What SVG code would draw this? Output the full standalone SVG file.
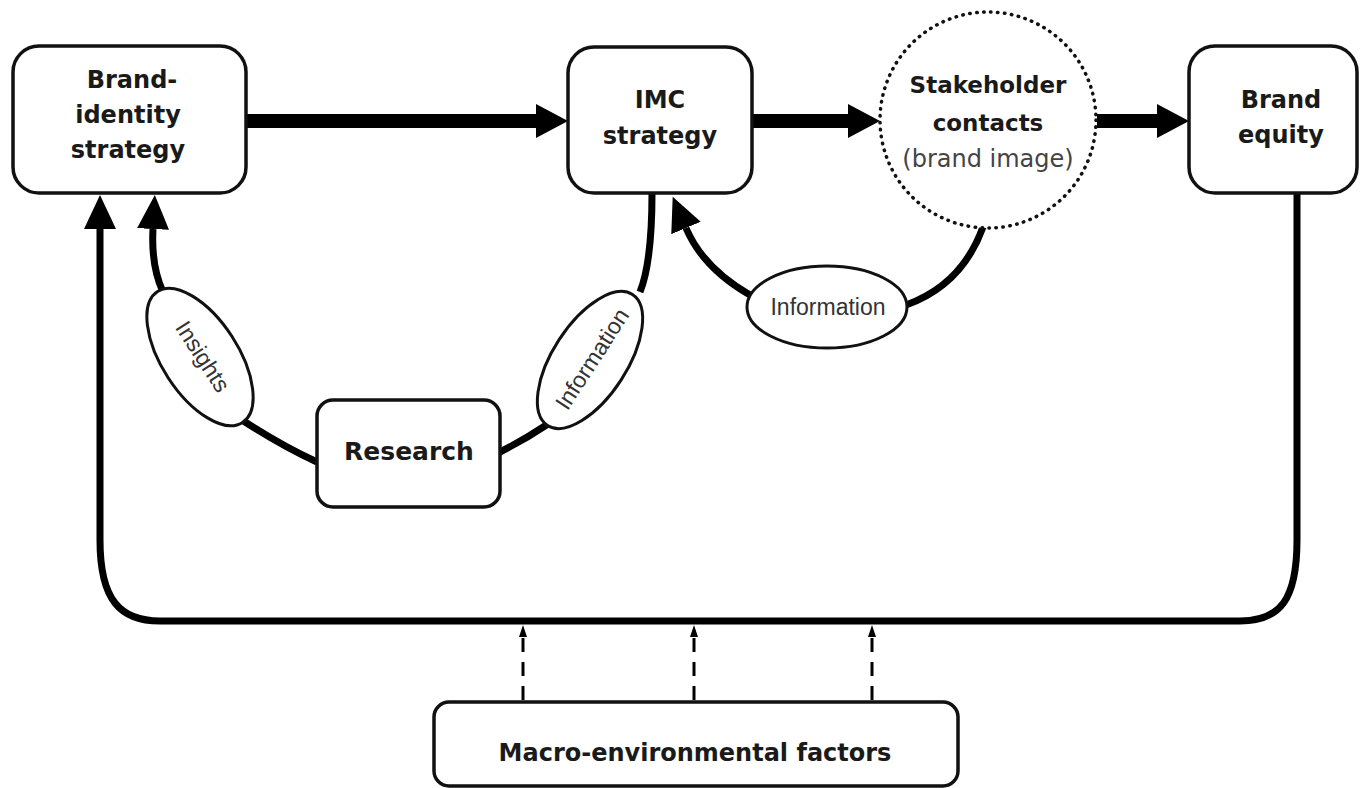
<svg xmlns="http://www.w3.org/2000/svg" width="1360" height="788" viewBox="0 0 1360 788">
<style>
.box{fill:#fff;stroke:#111;stroke-width:3.5}
.ell{fill:#fff;stroke:#111;stroke-width:3}
.t{font-family:"DejaVu Sans",Verdana,sans-serif;font-weight:bold;fill:#1a1a1a;text-anchor:middle}
.n{font-family:"Liberation Sans",Arial,sans-serif;fill:#333;text-anchor:middle}
.thick{stroke:#000;stroke-width:14;fill:none}
.loop{stroke:#000;stroke-width:7;fill:none}
.dash{stroke:#000;stroke-width:3;fill:none;stroke-dasharray:14 10}
</style>
<defs>
<marker id="bigHead" markerUnits="userSpaceOnUse" viewBox="0 -17 32 34" refX="0" refY="0" markerWidth="32" markerHeight="34" orient="auto">
<path d="M0,-17 L32,0 L0,17 z" fill="#000"/>
</marker>
<marker id="head" markerUnits="userSpaceOnUse" viewBox="0 -16 34 32" refX="0" refY="0" markerWidth="34" markerHeight="32" orient="auto">
<path d="M0,-16 L34,0 L0,16 z" fill="#000"/>
</marker>
<marker id="small" markerUnits="userSpaceOnUse" viewBox="0 -5 12 10" refX="0" refY="0" markerWidth="12" markerHeight="10" orient="auto">
<path d="M0,-4 L12,0 L0,4 z" fill="#000"/>
</marker>
</defs>

<g id="connectors">
<path class="thick" d="M246,121 H536" marker-end="url(#bigHead)"/>
<path class="thick" d="M752,121 H848" marker-end="url(#bigHead)"/>
<path class="thick" d="M1097,121 H1157" marker-end="url(#bigHead)"/>
<path class="loop" d="M1297,193 V540 C1297,600 1280,621 1240,621 H160 C120,621 100,600 100,540 V229" marker-end="url(#head)"/>
<path class="loop" d="M317,462 Q282,446 242,420"/>
<path class="loop" d="M163,292 Q151,266 153,229" marker-end="url(#head)"/>
<path class="loop" d="M500,452 Q524,440 548,424"/>
<path class="loop" d="M640,292 Q652,262 652,193"/>
<path class="loop" d="M983,227 Q962,285 906,305"/>
<path class="loop" d="M750,295 Q703,268 686,228" marker-end="url(#head)"/>
<path class="dash" d="M523,700 V637" marker-end="url(#small)"/>
<path class="dash" d="M694,700 V637" marker-end="url(#small)"/>
<path class="dash" d="M872,700 V637" marker-end="url(#small)"/>
</g>

<g id="brand-identity">
<rect class="box" x="13" y="46" width="233" height="147" rx="26"/>
<text class="t" font-size="24" x="132" y="88">Brand-</text>
<text class="t" font-size="24" x="128" y="123">identity</text>
<text class="t" font-size="24" x="128" y="158">strategy</text>
</g>

<g id="imc">
<rect class="box" x="568" y="47" width="184" height="146" rx="26"/>
<text class="t" font-size="24" x="660" y="108">IMC</text>
<text class="t" font-size="24" x="660" y="144">strategy</text>
</g>

<g id="stakeholder">
<circle cx="988" cy="120" r="108" fill="#fff" stroke="#111" stroke-width="3.5" stroke-dasharray="0.5 6.5" stroke-linecap="round"/>
<text class="t" font-size="23" x="988" y="93">Stakeholder</text>
<text class="t" font-size="23" x="988" y="131">contacts</text>
<text font-family="DejaVu Sans,Verdana,sans-serif" font-size="24" fill="#444" text-anchor="middle" x="988" y="167">(brand image)</text>
</g>

<g id="brand-equity">
<rect class="box" x="1189" y="46" width="168" height="147" rx="26"/>
<text class="t" font-size="24" x="1281" y="108">Brand</text>
<text class="t" font-size="24" x="1281" y="143">equity</text>
</g>

<g id="research">
<rect class="box" x="317" y="400" width="183" height="107" rx="16"/>
<text class="t" font-size="25" x="409" y="460">Research</text>
</g>

<g id="insights">
<ellipse class="ell" cx="200" cy="357" rx="78" ry="38" transform="rotate(57 200 357)"/>
<text class="n" font-size="23" transform="translate(202 357) rotate(57)" y="7">Insights</text>
</g>

<g id="information-research">
<ellipse class="ell" cx="590" cy="360" rx="78" ry="37" transform="rotate(-57 590 360)"/>
<text class="n" font-size="23" transform="translate(592 359) rotate(-57)" y="8">Information</text>
</g>

<g id="information-stakeholder">
<ellipse class="ell" cx="827" cy="307" rx="80" ry="41"/>
<text class="n" font-size="23" x="828" y="315">Information</text>
</g>

<g id="macro">
<rect class="box" x="434" y="702" width="524" height="84" rx="15"/>
<text class="t" font-size="24" x="695" y="761">Macro-environmental  factors</text>
</g>
</svg>
